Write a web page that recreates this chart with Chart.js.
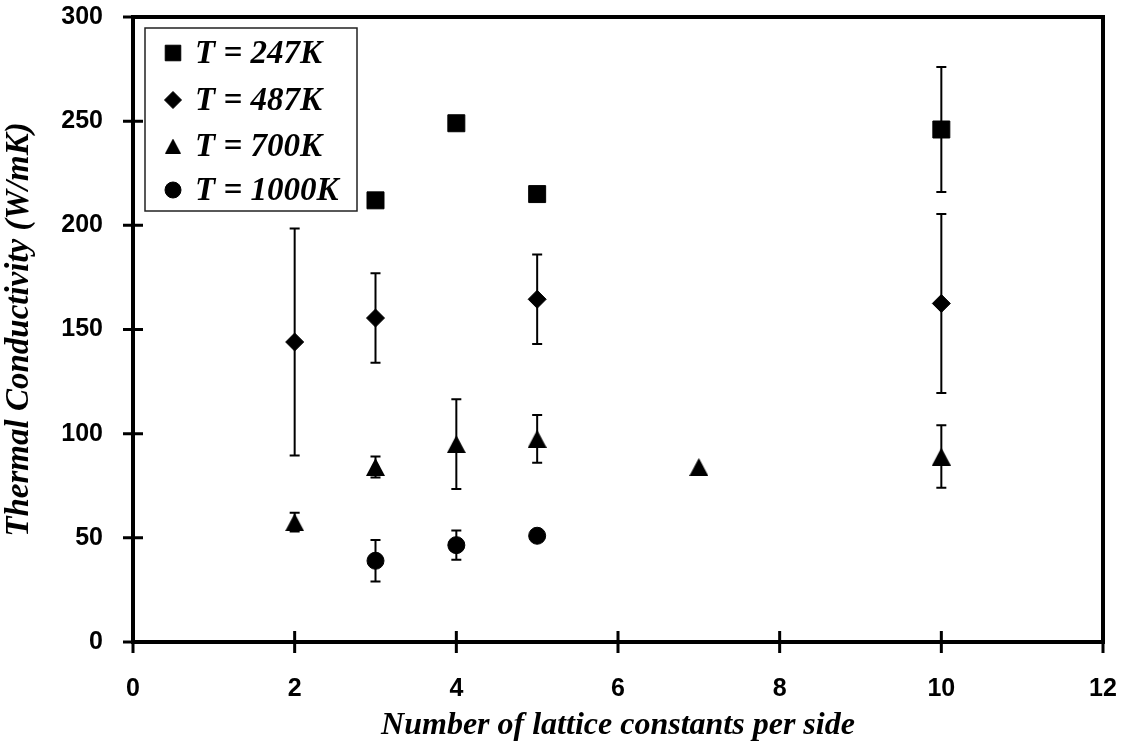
<!DOCTYPE html>
<html>
<head>
<meta charset="utf-8">
<title>Thermal Conductivity vs Lattice Size</title>
<script src="https://cdn.jsdelivr.net/npm/chart.js@4.4.1/dist/chart.umd.min.js"></script>
<style>
  html, body { margin: 0; padding: 0; background: #fff; }
  #wrap { width: 1127px; height: 749px; position: relative; }
</style>
</head>
<body>
<div id="wrap"><canvas id="kappaChart"></canvas></div>
<script>
// Measured conductivity (W/mK) vs number of lattice constants per side
const seriesLabels = ['T = 247K', 'T = 487K', 'T = 700K', 'T = 1000K'];

const sides247 = [3, 4, 5, 10];
const kappa247 = [212, 249, 215, 246];
const err247 = [0, 0, 0, 30];

const sides487 = [2, 3, 5, 10];
const kappa487 = [144, 155.5, 164.5, 162.5];
const err487 = [54.5, 21.5, 21.5, 43];

const sides700 = [2, 3, 4, 5, 7, 10];
const kappa700 = [57.5, 84, 95, 97.5, 84, 89];
const err700 = [4.5, 5, 21.5, 11.5, 0, 15];

const sides1000 = [3, 4, 5];
const kappa1000 = [39, 46.5, 51];
const err1000 = [10, 7, 0];

const xTicks = [0, 2, 4, 6, 8, 10, 12];
const yTicks = [0, 50, 100, 150, 200, 250, 300];

const tickFont = { family: '"Liberation Sans", Arial, sans-serif', size: 25, weight: 'bold' };
const titleFont = { family: '"Liberation Serif", "Times New Roman", serif', size: 32, weight: 'bold', style: 'italic' };

// triangle sprite centred on its bounding box (the built-in one sits on its circumcentre)
function triangleMarker(w, h) {
  const c = document.createElement('canvas');
  c.width = w;
  c.height = h;
  const g = c.getContext('2d');
  g.fillStyle = '#000';
  g.beginPath();
  g.moveTo(w / 2, 0);
  g.lineTo(w, h);
  g.lineTo(0, h);
  g.closePath();
  g.fill();
  return c;
}

function points(xs, ys, errs) {
  return xs.map((x, i) => ({ x: x, y: ys[i], err: errs[i] }));
}

function makeSet(label, data, style, radius, legendStyle, legendRadius) {
  return {
    label: label,
    data: data,
    pointStyle: style,
    pointRadius: radius,
    pointHoverRadius: radius,
    backgroundColor: '#000',
    borderColor: '#000',
    borderWidth: 1,
    showLine: false,
    legendStyle: legendStyle,
    legendRadius: legendRadius
  };
}

// vertical error bars, drawn under the markers
const errorBars = {
  id: 'errorBars',
  beforeDatasetsDraw(chart) {
    const ctx = chart.ctx;
    const yScale = chart.scales.y;
    ctx.save();
    ctx.strokeStyle = '#000';
    ctx.lineWidth = 2;
    chart.data.datasets.forEach((ds, i) => {
      const meta = chart.getDatasetMeta(i);
      meta.data.forEach((pt, j) => {
        const d = ds.data[j];
        if (!d.err) return;
        const top = yScale.getPixelForValue(d.y + d.err);
        const bot = yScale.getPixelForValue(d.y - d.err);
        ctx.beginPath();
        ctx.moveTo(pt.x, top);
        ctx.lineTo(pt.x, bot);
        ctx.moveTo(pt.x - 5, top);
        ctx.lineTo(pt.x + 5, top);
        ctx.moveTo(pt.x - 5, bot);
        ctx.lineTo(pt.x + 5, bot);
        ctx.stroke();
      });
    });
    ctx.restore();
  }
};

// plot frame with ticks crossing the axes
const frame = {
  id: 'frame',
  afterDraw(chart) {
    const ctx = chart.ctx;
    const a = chart.chartArea;
    const xs = chart.scales.x;
    const ys = chart.scales.y;
    ctx.save();
    ctx.strokeStyle = '#000';
    ctx.lineWidth = 4;
    ctx.strokeRect(a.left, a.top, a.right - a.left, a.bottom - a.top);
    ctx.lineWidth = 3;
    ctx.beginPath();
    xs.ticks.forEach(t => {
      const px = xs.getPixelForValue(t.value);
      ctx.moveTo(px, a.bottom - 11);
      ctx.lineTo(px, a.bottom + 11);
    });
    ys.ticks.forEach(t => {
      const py = ys.getPixelForValue(t.value);
      ctx.moveTo(a.left - 10, py);
      ctx.lineTo(a.left + 10, py);
    });
    ctx.stroke();
    ctx.restore();
  }
};

// boxed legend in the upper left of the plot
const boxLegend = {
  id: 'boxLegend',
  afterDraw(chart) {
    const ctx = chart.ctx;
    const a = chart.chartArea;
    const bx = a.left + 12, by = a.top + 11, bw = 212, bh = 183;
    ctx.save();
    ctx.fillStyle = '#fff';
    ctx.fillRect(bx, by, bw, bh);
    ctx.strokeStyle = '#222';
    ctx.lineWidth = 1.5;
    ctx.strokeRect(bx, by, bw, bh);
    const rowY = [25, 72, 118, 162];
    chart.data.datasets.forEach((ds, i) => {
      const cy = by + rowY[i];
      ctx.fillStyle = '#000';
      ctx.strokeStyle = '#000';
      ctx.lineWidth = 1;
      Chart.helpers.drawPoint(ctx, {
        pointStyle: ds.legendStyle,
        radius: ds.legendRadius,
        rotation: 0,
        borderWidth: 1
      }, bx + 28, cy);
      ctx.font = 'italic bold 33px "Liberation Serif", "Times New Roman", serif';
      ctx.textBaseline = 'middle';
      ctx.textAlign = 'left';
      ctx.fillText(ds.label, bx + 50, cy + 1);
    });
    ctx.restore();
  }
};

const ctx = document.getElementById('kappaChart').getContext('2d');
const kappaChart = new Chart(ctx, {
  type: 'scatter',
  data: {
    datasets: [
      makeSet(seriesLabels[0], points(sides247, kappa247, err247), 'rect', 12, 'rect', 11),
      makeSet(seriesLabels[1], points(sides487, kappa487, err487), 'rectRot', 9, 'rectRot', 8.5),
      makeSet(seriesLabels[2], points(sides700, kappa700, err700), triangleMarker(19, 18), 10, triangleMarker(16, 15), 8),
      makeSet(seriesLabels[3], points(sides1000, kappa1000, err1000), 'circle', 8.5, 'circle', 8)
    ]
  },
  options: {
    responsive: true,
    maintainAspectRatio: false,
    animation: false,
    layout: { autoPadding: false, padding: { top: 17, right: 24, left: 0, bottom: 0 } },
    scales: {
      x: {
        type: 'linear',
        min: 0,
        max: 12,
        afterBuildTicks: s => { s.ticks = xTicks.map(v => ({ value: v })); },
        afterFit: s => { s.height = 107; },
        // label gap comes from tickLength; ticks.padding would also pad the plot edge
        ticks: { font: tickFont, color: '#000', padding: 0, maxRotation: 0 },
        grid: { display: false, drawTicks: true, tickLength: 32 },
        border: { display: false },
        title: {
          display: true,
          text: 'Number of lattice constants per side',
          font: titleFont,
          color: '#000',
          padding: { top: 0, bottom: 4 }
        }
      },
      y: {
        type: 'linear',
        min: 0,
        max: 300,
        afterBuildTicks: s => { s.ticks = yTicks.map(v => ({ value: v })); },
        afterFit: s => { s.width = 133; },
        ticks: { font: tickFont, color: '#000', padding: 0 },
        grid: { display: false, drawTicks: true, tickLength: 30 },
        border: { display: false },
        title: {
          display: true,
          text: 'Thermal Conductivity (W/mK)',
          font: Object.assign({}, titleFont, { size: 33 }),
          color: '#000',
          padding: { top: 0, bottom: 0 }
        }
      }
    },
    plugins: {
      legend: { display: false },
      tooltip: { enabled: false }
    }
  },
  plugins: [errorBars, frame, boxLegend]
});
</script>
</body>
</html>
